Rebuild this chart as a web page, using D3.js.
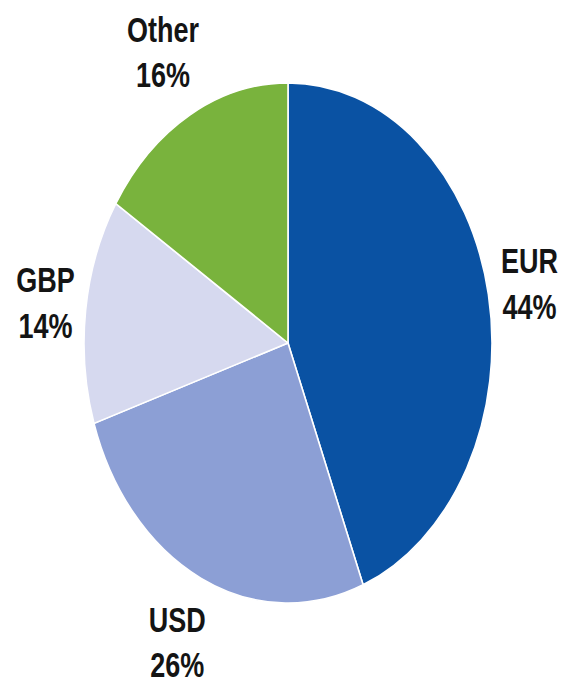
<!DOCTYPE html>
<html>
<head>
<meta charset="utf-8">
<script src="https://cdn.jsdelivr.net/npm/d3@7"></script>
<style>
  body { margin: 0; background: #fff; }
  text { font-family: "Liberation Sans", Arial, sans-serif; font-weight: bold; fill: #141414; }
</style>
</head>
<body>
<script>
var currencies = ['EUR', 'USD', 'GBP', 'Other'];
var shares = [44, 26, 14, 16];
var colours = ['#0a52a3', '#8c9fd5', '#d6d9ef', '#79b33d'];

var width = 562, height = 688;
var cx = 288, cy = 343;
var radius = 204;
var stretch = 1.275;   // the picture is squashed into an ellipse

var svg = d3.select('body').append('svg').attr('width', width).attr('height', height);

var pie = d3.pie().sort(null).value(function(d){ return d; });
var arc = d3.arc().innerRadius(0).outerRadius(radius);
var slices = pie(shares);

var grp = svg.append('g').attr('transform', 'translate(' + cx + ',' + cy + ') scale(1,' + stretch + ')');

grp.selectAll('path')
  .data(slices)
  .enter().append('path')
    .attr('d', arc)
    .attr('fill', function(d, i){ return colours[i]; })
    .attr('stroke', '#fff')
    .attr('stroke-width', 1.6)
    .attr('vector-effect', 'non-scaling-stroke');

// labels sit outside, pushed further out near top and bottom
var labels = svg.selectAll('g.lbl')
  .data(slices)
  .enter().append('g')
    .attr('class', 'lbl')
    .attr('transform', function(d){
      var a = (d.startAngle + d.endAngle) / 2;
      var r = radius + 38 + 20 * Math.abs(Math.cos(a));
      var x = cx + r * Math.sin(a);
      var y = cy - r * Math.cos(a) * stretch;
      return 'translate(' + x + ',' + y + ') scale(1,' + stretch + ')';
    });

labels.append('text')
  .attr('text-anchor', 'middle')
  .attr('font-size', 27)
  .attr('y', -9)
  .text(function(d, i){ return currencies[i]; });

labels.append('text')
  .attr('text-anchor', 'middle')
  .attr('font-size', 27)
  .attr('y', 27)
  .text(function(d){ return d.value + '%'; });
</script>
</body>
</html>
